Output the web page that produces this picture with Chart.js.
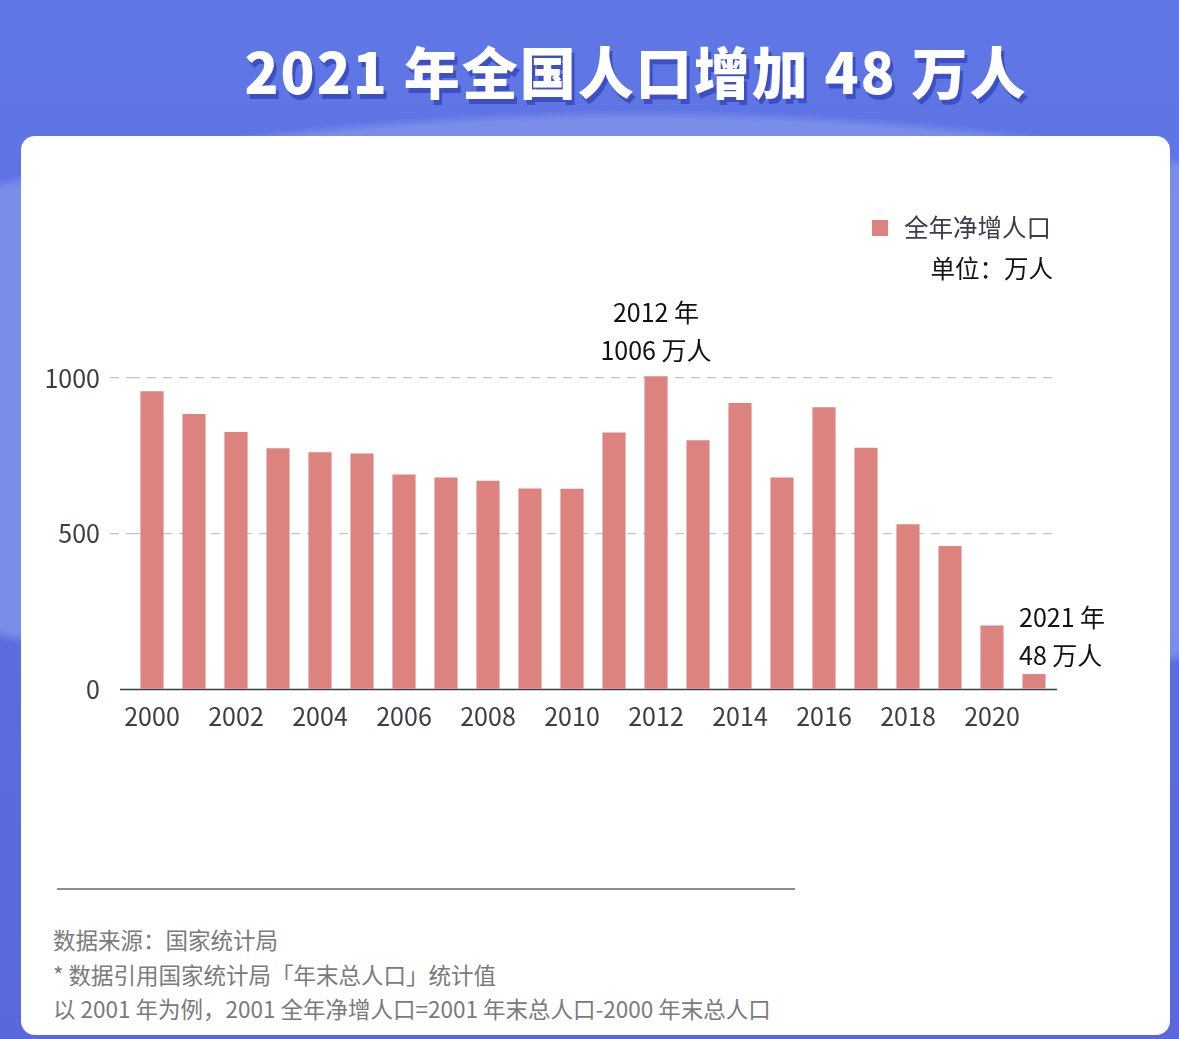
<!DOCTYPE html>
<html lang="zh">
<head>
<meta charset="utf-8">
<title>2021 年全国人口增加 48 万人</title>
<script src="https://cdn.jsdelivr.net/npm/chart.js@4.4.1/dist/chart.umd.min.js"></script>
<style>
    html, body {
        margin: 0;
        padding: 0;
    }
    body {
        width: 1179px;
        height: 1039px;
        position: relative;
        overflow: hidden;
        font-family: "Noto Sans CJK SC", "Noto Sans", sans-serif;
        background:
            radial-gradient(ellipse 1000px 300px at 640px 410px, #7b8ee9 0%, #7a8de8 97%, rgba(122,141,232,0) 100%),
            linear-gradient(180deg, #6077e6 0%, #5c70e0 40%, #5a68dc 100%);
    }
    .title {
        position: absolute;
        left: 0;
        width: 1272px;
        top: 28px;
        text-align: center;
        color: #fff;
        font-size: 56px;
        font-weight: 900;
        letter-spacing: 2px;
        line-height: 84px;
        text-shadow: 3px 5px 0 #3d4fc4;
    }
    .card {
        position: absolute;
        left: 21px;
        top: 136px;
        width: 1149px;
        height: 899px;
        background: #fff;
        border-radius: 14px;
    }
    .rule {
        position: absolute;
        left: 57px;
        top: 888px;
        width: 738px;
        height: 0;
        border-top: 2px solid #8c8c8c;
    }
    .notes {
        position: absolute;
        left: 53px;
        top: 922px;
        color: #7a7a7a;
        font-size: 22.5px;
        line-height: 34.5px;
    }
    #chart {
        position: absolute;
        left: 0;
        top: 0;
    }
</style>
</head>
<body>
<div class="title">2021 年全国人口增加 48 万人</div>
<div class="card"></div>
<div class="rule"></div>
<div class="notes">
    <div>数据来源：国家统计局</div>
    <div>* 数据引用国家统计局「年末总人口」统计值</div>
    <div>以 2001 年为例，2001 全年净增人口=2001 年末总人口-2000 年末总人口</div>
</div>
<canvas id="chart" width="1179" height="1039"></canvas>

<script>
// Chart data
const years = ['2000', '2001', '2002', '2003', '2004', '2005', '2006', '2007', '2008', '2009', '2010',
    '2011', '2012', '2013', '2014', '2015', '2016', '2017', '2018', '2019', '2020', '2021'];
const netIncrease = [957, 884, 826, 774, 761, 757, 690, 680, 670, 645, 644,
    825, 1006, 800, 920, 680, 906, 776, 530, 460, 204, 48];
const yTicks = [0, 500, 1000];
const seriesName = '全年净增人口';
const unitLabel = '单位：万人';

// callouts above selected bars: [index, line1, line2, align]
const callouts = [
    [12, '2012 年', '1006 万人', 'center'],
    [21, '2021 年', '48 万人', 'left']
];

const BAR_COLOR = '#dd837f';
const FONT = '"Noto Sans CJK SC", "Noto Sans", sans-serif';

/**
 * Legend, baseline and callout text
 */
const decorations = {
    id: 'decorations',
    afterDatasetsDraw(chart) {
        const ctx = chart.ctx;
        const x = chart.scales.x;
        const y = chart.scales.y;
        const area = chart.chartArea;

        ctx.save();

        // baseline
        const y0 = Math.round(y.getPixelForValue(0)) + 0.5;
        ctx.strokeStyle = '#3c3c46';
        ctx.lineWidth = 1.5;
        ctx.beginPath();
        ctx.moveTo(area.left - 11, y0);
        ctx.lineTo(area.right + 2, y0);
        ctx.stroke();

        // legend
        ctx.fillStyle = chart.data.datasets[0].backgroundColor;
        ctx.fillRect(872, 220, 16, 16);
        ctx.fillStyle = '#3a3d4a';
        ctx.font = '24.5px ' + FONT;
        ctx.textBaseline = 'middle';
        ctx.textAlign = 'left';
        ctx.fillText(chart.data.datasets[0].label, 904, 228);
        ctx.fillStyle = '#111';
        ctx.textAlign = 'right';
        ctx.fillText(unitLabel, 1053, 269);

        // callouts
        ctx.font = '25px ' + FONT;
        ctx.fillStyle = '#111';
        callouts.forEach(([i, line1, line2, align]) => {
            const bx = x.getPixelForValue(i);
            const by = y.getPixelForValue(chart.data.datasets[0].data[i]);
            let tx = bx;
            if (align === 'left') {
                tx = bx - 15;
                ctx.textAlign = 'left';
            } else {
                ctx.textAlign = 'center';
            }
            const gap = align === 'left' ? 19 : 26;
            ctx.fillText(line2, tx, by - gap);
            ctx.fillText(line1, tx, by - gap - 38);
        });

        ctx.restore();
    }
};

function initChart() {
    const ctx = document.getElementById('chart').getContext('2d');

    new Chart(ctx, {
        type: 'bar',
        data: {
            labels: years,
            datasets: [{
                label: seriesName,
                data: netIncrease,
                backgroundColor: BAR_COLOR,
                borderWidth: 0,
                barPercentage: 0.55,
                categoryPercentage: 1
            }]
        },
        options: {
            responsive: false,
            animation: false,
            layout: {
                padding: { top: 346.9, bottom: 310, left: 0, right: 124 }
            },
            plugins: {
                legend: { display: false },
                tooltip: { enabled: false }
            },
            scales: {
                x: {
                    afterFit(scale) { scale.height = 40; },
                    grid: { display: false, drawTicks: false },
                    border: { display: false },
                    ticks: {
                        autoSkip: false,
                        maxRotation: 0,
                        padding: 12,
                        color: '#3a3d4a',
                        font: { family: FONT, size: 25 },
                        callback(value, index) {
                            return index % 2 === 0 ? years[index] : '';
                        }
                    }
                },
                y: {
                    min: 0,
                    max: 1100,
                    afterFit(scale) { scale.width = 131; },
                    afterBuildTicks(scale) {
                        scale.ticks = yTicks.map(v => ({ value: v }));
                    },
                    border: { display: false, dash: [9, 7] },
                    grid: {
                        color: c => (c.tick && c.tick.value === 0) ? 'rgba(0,0,0,0)' : '#c4c4c4',
                        tickColor: c => (c.tick && c.tick.value === 0) ? 'rgba(0,0,0,0)' : '#c4c4c4',
                        lineWidth: 1.2,
                        tickLength: 21,
                        tickBorderDash: [9, 7]
                    },
                    ticks: {
                        padding: 10,
                        color: '#3a3d4a',
                        font: { family: FONT, size: 25 },
                        callback: value => String(value)
                    }
                }
            }
        },
        plugins: [decorations]
    });
}

document.addEventListener('DOMContentLoaded', initChart);
</script>
</body>
</html>
